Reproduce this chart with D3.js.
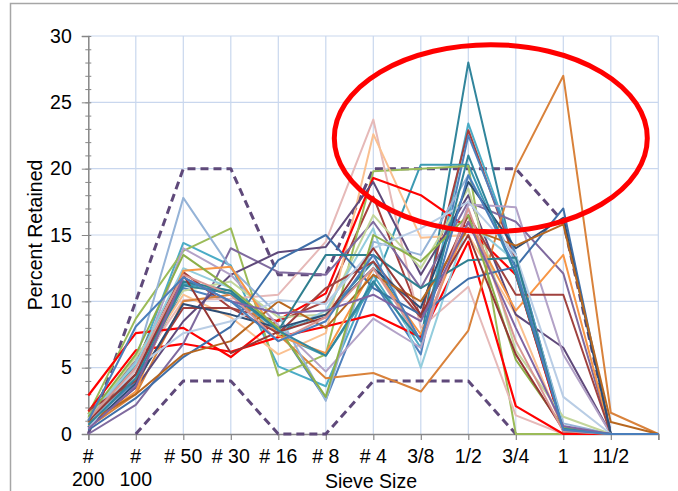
<!DOCTYPE html>
<html>
<head>
<meta charset="utf-8">
<script src="https://cdn.jsdelivr.net/npm/d3@7"></script>
<style>
  html, body { margin: 0; padding: 0; background: #ffffff; }
  svg { display: block; font-family: "Liberation Sans", Arial, sans-serif; }
</style>
</head>
<body>
<div id="chart"></div>
<script>
// ---------------- data ----------------
const categories = ["# 200", "# 100", "# 50", "# 30", "# 16", "# 8", "# 4", "3/8", "1/2", "3/4", "1", "11/2", ""];
const yTicks = [0, 5, 10, 15, 20, 25, 30];
const yTitle = "Percent Retained";
const xTitle = "Sieve Size";

// specification band (dashed)
const upperSpec = [0, 10, 20, 20, 12, 12, 20, 20, 20, 20, 16, 0, null];
const lowerSpec = [null, 0, 4, 4, 0, 0, 4, 4, 4, 0, null, null, null];

// gradation series (percent retained per sieve)
const s01 = [0.5, 4.5, 11.5, 10.5, 7.8, 9.0, 13.0, 7.0, 28.0, 12.5, 0.3, 0, 0];
const s02 = [1.0, 5.0, 14.4, 12.7, 5.1, 3.6, 12.0, 6.5, 23.4, 13.5, 0.5, 0, 0];
const s03 = [1.5, 5.5, 12.2, 9.5, 8.5, 10.0, 17.9, 8.8, 22.9, 13.0, 0.5, 0, 0];
const s04 = [0.8, 4.0, 11.0, 10.0, 8.0, 2.6, 11.5, 6.0, 22.5, 13.5, 0.4, 0, 0];
const s05 = [1.2, 5.2, 11.3, 10.8, 7.5, 5.9, 11.2, 20.3, 20.3, 12.0, 0.2, 0, 0];
const s06 = [1.5, 8.7, 13.8, 15.5, 4.4, 6.0, 19.8, 20.0, 20.2, 0.0, 0.0, 0, 0];
const s07 = [0.8, 4.8, 10.1, 10.2, 10.5, 14.5, 23.7, 8.0, 11.1, 1.4, 0, 0, 0];
const s08 = [1.0, 5.0, 10.5, 8.8, 6.0, 7.6, 22.6, 14.8, 15.0, 9.0, 0.3, 0, 0];
const s09 = [1.7, 6.3, 6.8, 6.2, 7.3, 8.1, 9.0, 7.3, 14.5, 2.1, 0, 0, 0];
const s10 = [2.9, 7.6, 8.0, 5.8, 8.6, 10.6, 19.3, 18.0, 15.5, 12.0, 0.2, 0, 0];
const s11 = [0.5, 3.0, 10.0, 10.5, 7.5, 4.2, 4.6, 3.2, 7.8, 20.0, 27.0, 1.6, 0];
const s12 = [0.0, 2.2, 6.8, 14.0, 12.2, 12.0, 16.0, 11.0, 17.5, 16.0, 12.1, 0, 0];
const s13 = [0.5, 3.5, 8.5, 12.0, 13.7, 14.1, 19.0, 12.0, 18.0, 9.0, 6.5, 0, 0];
const s14 = [1.0, 5.5, 17.8, 12.5, 9.0, 2.5, 14.5, 13.5, 19.5, 13.0, 0.8, 0, 0];
const s15 = [0.8, 4.5, 14.0, 12.0, 8.2, 4.7, 8.7, 6.5, 17.3, 17.1, 6.0, 0, 0];
const s16 = [1.2, 5.8, 10.8, 11.5, 8.8, 9.0, 16.5, 12.5, 18.5, 6.3, 1.3, 0, 0];
const s17 = [1.4, 5.3, 12.5, 11.0, 7.5, 9.3, 15.5, 5.0, 16.0, 13.0, 0.5, 0, 0];
const s18 = [0.6, 3.2, 12.3, 12.6, 7.4, 6.1, 12.5, 7.5, 16.0, 9.3, 13.5, 0, 0];
const s19 = [1.8, 4.0, 9.5, 9.5, 7.6, 11.0, 13.0, 8.8, 16.5, 10.5, 10.5, 0, 0];
const s20 = [0.3, 2.7, 5.8, 8.1, 13.1, 15.0, 11.0, 9.0, 11.7, 12.6, 17.0, 0, 0];
const s21 = [0.5, 3.8, 9.8, 9.0, 8.0, 9.0, 12.5, 9.5, 19.0, 14.0, 16.3, 0, 0];
const s22 = [0.9, 3.0, 6.0, 7.0, 10.0, 8.0, 12.0, 10.0, 15.5, 14.2, 15.8, 0.9, 0];
const s23 = [0.4, 5.0, 7.6, 8.5, 10.1, 9.8, 14.0, 15.5, 17.5, 13.5, 2.8, 0, 0];
const s24 = [1.0, 4.5, 11.5, 10.8, 7.8, 13.5, 13.5, 11.0, 13.1, 13.3, 0.2, 0, 0];
const s25 = [1.3, 6.0, 13.5, 11.0, 8.0, 2.8, 15.0, 13.0, 16.5, 5.6, 0.5, 0, 0];
const s26 = [1.0, 4.5, 12.0, 6.1, 7.7, 8.8, 14.0, 9.0, 15.0, 6.0, 0.3, 0, 0];
const s27 = [1.1, 5.0, 12.0, 10.5, 7.0, 8.8, 12.5, 7.0, 17.0, 7.0, 0.2, 0, 0];
const s28 = [0.7, 4.2, 11.2, 10.6, 7.8, 5.9, 11.5, 7.0, 21.0, 12.0, 0.4, 0, 0];
const s29 = [0.4, 3.6, 11.8, 10.0, 9.1, 9.3, 10.5, 8.5, 16.0, 8.0, 0.6, 0, 0];
const s30 = [1.0, 8.1, 11.8, 10.0, 7.0, 8.5, 13.5, 7.0, 19.5, 12.5, 0.3, 0, 0];

const seriesList = [s01, s02, s03, s04, s05, s06, s07, s08, s09, s10,
                    s11, s12, s13, s14, s15, s16, s17, s18, s19, s20,
                    s21, s22, s23, s24, s25, s26, s27, s28, s29, s30];
const seriesColors = ["#31859C", "#4BACC6", "#A5403D", "#4F81BD", "#3C9AB2", "#9BBB59",
                      "#E6B9B8", "#FAC090", "#FF0000", "#FF0000", "#D9823B", "#7F6A9E",
                      "#5F497A", "#95B3D7", "#B3A2C7", "#C3D69B", "#93CDDD", "#F79646",
                      "#A0413E", "#3F6FA8", "#2C4D75", "#B7671F", "#B9CDE5", "#2F7F8F",
                      "#8DB04A", "#953735", "#D99694", "#31859C", "#8064A2", "#4A7EBB"];

// ---------------- layout ----------------
const W = 678, H = 491;
const plot = { left: 88.3, right: 658.3, top: 36, bottom: 434 };

const svg = d3.select("#chart").append("svg").attr("width", W).attr("height", H);

// outer chart border
svg.append("rect")
  .attr("x", 10.5).attr("y", 3.5).attr("width", W + 20).attr("height", H + 20)
  .attr("fill", "none").attr("stroke", "#A6A6A6").attr("stroke-width", 1.5);

const x = d3.scalePoint().domain(d3.range(categories.length)).range([plot.left, plot.right]);
const y = d3.scaleLinear().domain([0, 30]).range([plot.bottom, plot.top]);

// gridlines
const grid = svg.append("g");
grid.selectAll("line.h").data(yTicks.filter(v => v > 0)).join("line")
  .attr("x1", plot.left).attr("x2", plot.right)
  .attr("y1", d => y(d)).attr("y2", d => y(d))
  .attr("stroke", "#C9D7EE").attr("stroke-width", 1.2);
grid.selectAll("line.v").data(d3.range(1, categories.length)).join("line")
  .attr("x1", d => x(d)).attr("x2", d => x(d))
  .attr("y1", plot.top).attr("y2", plot.bottom)
  .attr("stroke", "#C9D7EE").attr("stroke-width", 1.2);

// y axis: minor ticks crossing the axis
const yMinorL = d3.axisLeft(y).tickValues(d3.range(0, 31)).tickSize(3).tickFormat("");
const yMinorR = d3.axisRight(y).tickValues(d3.range(0, 31)).tickSize(3).tickFormat("");
const gMinL = svg.append("g").attr("transform", `translate(${plot.left},0)`).call(yMinorL);
const gMinR = svg.append("g").attr("transform", `translate(${plot.left},0)`).call(yMinorR);
[gMinL, gMinR].forEach(g => {
  g.select(".domain").remove();
  g.selectAll("line").attr("stroke", "#868686").attr("stroke-width", 1);
});

// y axis: major ticks + labels
const yAxis = d3.axisLeft(y).tickValues(yTicks).tickSize(6.5).tickPadding(10);
const gy = svg.append("g").attr("transform", `translate(${plot.left},0)`).call(yAxis);
gy.select(".domain").attr("stroke", "#868686").attr("stroke-width", 1.5);
gy.selectAll("line").attr("stroke", "#868686").attr("stroke-width", 1);
gy.selectAll("text").attr("font-size", 19.5).attr("fill", "#000")
  .attr("font-family", "Liberation Sans, Arial, sans-serif");

// x axis
const xAxis = d3.axisBottom(x).tickSize(6).tickFormat("");
const gx = svg.append("g").attr("transform", `translate(0,${plot.bottom})`).call(xAxis);
gx.select(".domain").attr("stroke", "#868686").attr("stroke-width", 1.5);
gx.selectAll("line").attr("stroke", "#868686").attr("stroke-width", 1.2);

// x tick labels with word-wrap like the original
const xl = svg.append("g").attr("font-size", 19.5).attr("fill", "#000");
categories.forEach((c, i) => {
  if (!c) return;
  const t = xl.append("text").attr("x", x(i)).attr("y", 463).attr("text-anchor", "middle").text(c);
  const w = t.node().getComputedTextLength();
  if (w > 46) {
    const words = c.split(" ");
    t.text(null);
    words.forEach((wd, k) => {
      t.append("tspan").attr("x", x(i)).attr("y", 463 + k * 22.5).text(wd);
    });
  }
});

// axis titles
svg.append("text")
  .attr("x", 371).attr("y", 487.5).attr("text-anchor", "middle")
  .attr("font-size", 19.5).attr("fill", "#000").text(xTitle);
svg.append("text")
  .attr("transform", `translate(42,${(plot.top + plot.bottom) / 2}) rotate(-90)`)
  .attr("text-anchor", "middle")
  .attr("font-size", 19.5).attr("fill", "#000").text(yTitle);

// lines
const line = d3.line()
  .defined(d => d != null)
  .x((d, i) => x(i))
  .y(d => y(d));

const specG = svg.append("g");
[upperSpec, lowerSpec].forEach(s => {
  specG.append("path")
    .attr("d", line(s))
    .attr("fill", "none")
    .attr("stroke", "#5F497A")
    .attr("stroke-width", 3)
    .attr("stroke-dasharray", "8,5")
    .attr("stroke-linejoin", "round");
});

const dataG = svg.append("g");
seriesList.forEach((s, i) => {
  dataG.append("path")
    .attr("d", line(s))
    .attr("fill", "none")
    .attr("stroke", seriesColors[i])
    .attr("stroke-width", seriesColors[i] === "#FF0000" ? 2.2 : 2)
    .attr("stroke-linejoin", "round");
});

// highlight ellipse
svg.append("ellipse")
  .attr("cx", x(8) + 22.5).attr("cy", y(22.3))
  .attr("rx", 156.5).attr("ry", 93.5)
  .attr("fill", "none").attr("stroke", "#FF0000").attr("stroke-width", 5);
</script>
</body>
</html>
